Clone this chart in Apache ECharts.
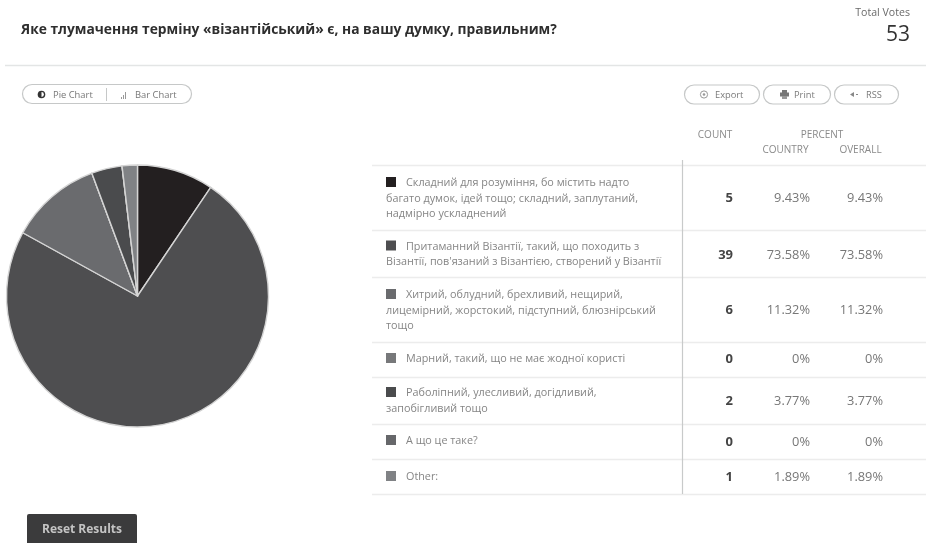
<!DOCTYPE html>
<html>
<head>
<meta charset="utf-8">
<style>
  html, body { margin: 0; padding: 0; background: #fff; }
  #chart { width: 926px; height: 543px; }
</style>
<script src="https://cdn.jsdelivr.net/npm/echarts@6/dist/echarts.min.js"></script>
</head>
<body>
<div id="chart"></div>
<script>
// Poll question and totals
const question = 'Яке тлумачення терміну «візантійський» є, на вашу думку, правильним?';
const totalVotes = 53;

// Answer rows, each entry holding the wrapped lines of one answer
const answerLines = [
  ['Складний для розуміння, бо містить надто', 'багато думок, ідей тощо; складний, заплутаний,', 'надмірно ускладнений'],
  ['Притаманний Візантії, такий, що походить з', 'Візантії, пов\'язаний з Візантією, створений у Візантії'],
  ['Хитрий, облудний, брехливий, нещирий,', 'лицемірний, жорстокий, підступний, блюзнірський', 'тощо'],
  ['Марний, такий, що не має жодної користі'],
  ['Раболіпний, улесливий, догідливий,', 'запобігливий тощо'],
  ['А що це таке?'],
  ['Other:']
];
const counts = [5, 39, 6, 0, 2, 0, 1];
const percentCountry = ['9.43%', '73.58%', '11.32%', '0%', '3.77%', '0%', '1.89%'];
const percentOverall = ['9.43%', '73.58%', '11.32%', '0%', '3.77%', '0%', '1.89%'];
const sliceColors = ['#231f20', '#4e4e50', '#6a6b6e', '#77787a', '#4a4b4d', '#66676a', '#808285'];

// Table geometry
const rowLines = [165, 230, 277, 342, 377, 424, 459, 494];
const firstLineY = [183, 246.5, 295, 359, 393, 441, 477];
const valueY = [198.5, 255.5, 310.5, 359.5, 401.5, 442.5, 477.5];
const lineStep = 15.6;

const FONT = '"Open Sans", "Noto Sans", sans-serif';
const g = [];

function text(str, x, y, size, fill, align, weight) {
  g.push({
    type: 'text', silent: true,
    style: {
      text: str, x, y, fill,
      font: (weight || 'normal') + ' ' + size + 'px ' + FONT,
      align: align || 'left', verticalAlign: 'middle'
    }
  });
}
function line(x1, y1, x2, y2, stroke, width) {
  g.push({ type: 'line', silent: true, shape: { x1, y1, x2, y2 }, style: { stroke, lineWidth: width || 1 } });
}
function pill(x, y, w, h) {
  g.push({
    type: 'rect', silent: true,
    shape: { x, y, width: w, height: h, r: h / 2 },
    style: { fill: '#fff', stroke: '#c6c8c8', lineWidth: 1.2 }
  });
}
function box(x, y, w, h, fill) {
  g.push({ type: 'rect', silent: true, shape: { x, y, width: w, height: h }, style: { fill } });
}

// Header
text(question, 21, 30.5, 13.8, '#2e2e2e', 'left', 'bold');
text('Total Votes', 910, 13, 10.6, '#6a6a6a', 'right');
text(String(totalVotes), 910, 35, 21, '#333', 'right');
line(5, 65.5, 926, 65.5, '#e3e5e5', 1.5);

// Pie / Bar switch
pill(22.5, 84.5, 169, 19);
line(106.5, 88, 106.5, 101, '#c6c8c8');
g.push({ type: 'circle', silent: true, shape: { cx: 41.5, cy: 94.5, r: 3.8 }, style: { fill: '#333' } });
g.push({ type: 'sector', silent: true, shape: { cx: 41.5, cy: 94.5, r: 2.4, r0: 0, startAngle: -Math.PI / 2, endAngle: Math.PI / 2 }, style: { fill: '#fff' } });
text('Pie Chart', 53, 95, 9.4, '#777');
box(121, 97, 1, 2, '#999'); box(123, 95, 1, 4, '#999'); box(125, 92, 1, 7, '#999');
text('Bar Chart', 135, 95, 9.4, '#777');

// Export / Print / RSS buttons
pill(684.5, 85, 75, 19);
pill(763.5, 85, 67, 19);
pill(834.5, 85, 64, 19);
g.push({ type: 'circle', silent: true, shape: { cx: 704, cy: 94.5, r: 3.6 }, style: { fill: 'none', stroke: '#999', lineWidth: 1 } });
g.push({ type: 'circle', silent: true, shape: { cx: 704, cy: 94.5, r: 1.3 }, style: { fill: '#999' } });
text('Export', 715, 95, 9.3, '#7a7a7a');
box(780, 92.5, 9, 4, '#777'); box(782, 90, 5, 3, '#777'); box(782, 96, 5, 3, '#999');
text('Print', 794, 95, 9.3, '#7a7a7a');
g.push({ type: 'polygon', silent: true, shape: { points: [[850, 94.5], [854, 92], [854, 97]] }, style: { fill: '#888' } });
line(856, 94.5, 858, 94.5, '#888');
text('RSS', 866, 95, 9.3, '#7a7a7a');

// Column headings
text('COUNT', 715, 135, 10, '#8a8a8a', 'center');
text('PERCENT', 822, 135, 10, '#8a8a8a', 'center');
text('COUNTRY', 785.5, 150, 10, '#8a8a8a', 'center');
text('OVERALL', 860.5, 150, 10, '#8a8a8a', 'center');

// Table rules
rowLines.forEach(y => line(372, y + 0.5, 926, y + 0.5, '#ececec', 1.5));
line(682.5, 160, 682.5, 494, '#c8caca', 1.2);

// Table rows, keyed off the answer list
answerLines.forEach((lines, i) => {
  const y0 = firstLineY[i];
  box(386, y0 - 6, 10, 10, sliceColors[i]);
  lines.forEach((s, k) => {
    text(s, k === 0 ? 406 : 386, y0 + k * lineStep, 10.8, '#858585');
  });
  text(String(counts[i]), 733, valueY[i], 13, '#444', 'right', 'bold');
  text(percentCountry[i], 810, valueY[i], 12.8, '#777', 'right');
  text(percentOverall[i], 883, valueY[i], 12.8, '#777', 'right');
});

// Reset button
g.push({
  type: 'rect', silent: true,
  shape: { x: 27, y: 514, width: 110, height: 40, r: 2 },
  style: { fill: '#3b3b3c' }
});
text('Reset Results', 82, 529.5, 12, '#c4c4c4', 'center', 'bold');

const chart = echarts.init(document.getElementById('chart'), null, { renderer: 'canvas' });
chart.setOption({
  animation: false,
  backgroundColor: '#fff',
  graphic: { elements: g },
  series: [{
    type: 'pie',
    center: [137.5, 296],
    radius: [0, 131],
    startAngle: 90,
    clockwise: true,
    silent: true,
    label: { show: false },
    labelLine: { show: false },
    itemStyle: { borderColor: '#d4d4d4', borderWidth: 1.4 },
    data: counts.map((value, i) => ({
      value,
      name: answerLines[i][0],
      itemStyle: { color: sliceColors[i] }
    }))
  }]
});
</script>
</body>
</html>
